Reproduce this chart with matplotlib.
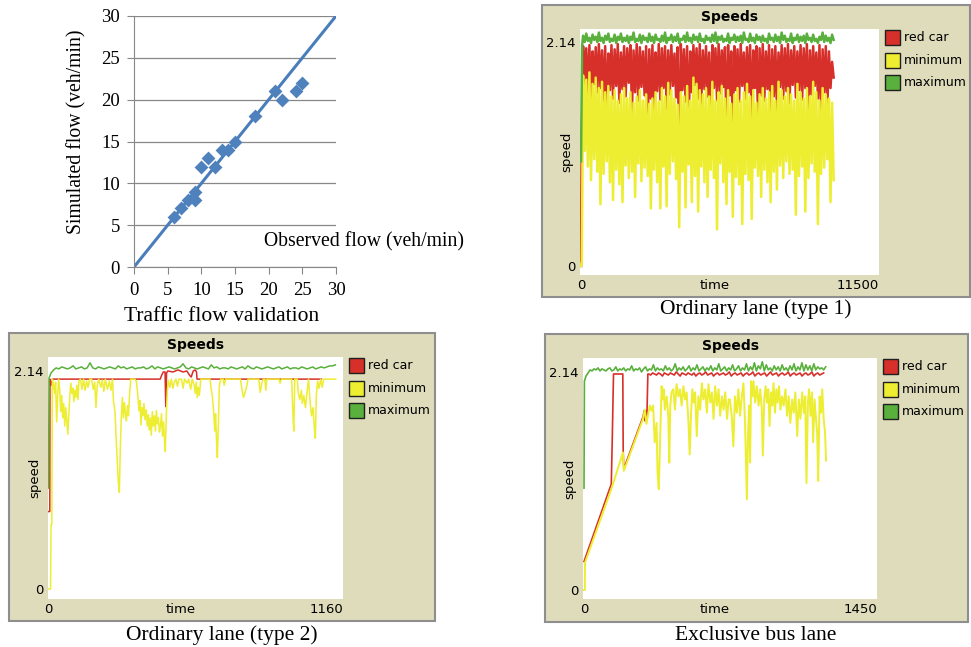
import numpy as np
import matplotlib.pyplot as plt
from matplotlib.patches import Rectangle

W, H = 971, 647

# ---- traffic flow validation (veh/min)
observed = [6, 7, 8, 9, 9, 10, 11, 12, 13, 14, 15, 18, 21, 22, 24, 25]
simulated = [6, 7, 8, 9, 8, 12, 13, 12, 14, 14, 15, 18, 21, 20, 21, 22]
fit_x = [0, 30]
fit_y = [0, 30]
flow_ticks = [0, 5, 10, 15, 20, 25, 30]

# ---- ordinary lane (type 1): start-up points, then evenly sampled ticks
red1_start = [(0, 0.0), (20, 1.0)]
red1 = [2.10, 1.70, 2.08, 1.62, 2.11, 1.52, 2.05, 1.74, 2.09, 1.66,
        2.12, 1.70, 2.06, 1.58, 2.10, 1.42, 2.03, 1.68, 2.11, 1.60,
        2.07, 1.72, 2.12, 1.56, 2.04, 1.69, 2.10, 1.62, 2.08, 1.75,
        2.11, 1.47, 2.06, 1.66, 2.12, 1.58, 2.09, 1.71, 2.05, 1.63,
        2.10, 1.30, 2.07, 1.60, 2.11, 1.38, 2.04, 1.67, 2.12, 1.59,
        2.08, 1.70, 2.10, 1.50, 2.06, 1.64, 2.11, 1.72, 2.03, 1.61,
        2.09, 0.91, 2.12, 1.68, 2.07, 1.57, 2.10, 1.33, 2.05, 1.66,
        2.11, 1.73, 2.08, 1.60, 2.12, 1.55, 2.06, 1.69, 2.10, 1.62,
        2.04, 1.36, 2.11, 1.70, 2.08, 1.58, 2.12, 1.65, 2.06, 1.71,
        2.09, 1.26, 2.11, 1.63, 2.05, 1.26, 2.10, 1.68, 2.07, 1.57,
        2.12, 1.72, 2.04, 1.60, 2.09, 1.66, 2.11, 1.39, 2.06, 1.70,
        2.10, 1.40, 2.08, 1.63, 2.12, 1.58, 2.05, 1.69, 2.11, 1.44,
        2.07, 1.62, 2.10, 1.49, 2.04, 1.71, 2.11, 1.60, 2.08, 1.67,
        2.12, 1.56, 2.06, 1.73, 2.10, 1.61, 2.05, 1.68, 2.11, 1.59,
        2.08, 1.70, 2.12, 1.46, 2.06, 1.64, 2.10, 1.72, 2.04, 1.60,
        2.11, 1.47, 2.07, 1.66, 2.10, 1.50, 2.05, 1.70, 1.95, 1.80]
yellow1_start = [(0, 0.0), (30, 0.05)]
yellow1 = [1.82, 1.10, 1.78, 0.95, 1.85, 0.82, 1.74, 1.02, 1.80, 0.90,
           1.70, 0.59, 1.76, 0.88, 1.66, 1.00, 1.72, 0.80, 1.62, 0.63,
           1.68, 0.92, 1.58, 0.78, 1.64, 0.61, 1.70, 0.96, 1.60, 0.84,
           1.66, 0.90, 1.56, 0.66, 1.62, 0.98, 1.68, 0.81, 1.58, 0.94,
           1.64, 0.86, 1.55, 0.55, 1.60, 0.92, 1.66, 0.80, 1.57, 0.55,
           1.70, 0.95, 1.62, 0.57, 1.75, 0.88, 1.68, 1.00, 1.60, 0.83,
           1.54, 0.37, 1.66, 0.90, 1.62, 0.56, 1.72, 0.97, 1.58, 0.61,
           1.80, 0.86, 1.74, 0.52, 1.68, 0.95, 1.64, 0.80, 1.70, 0.66,
           1.62, 0.92, 1.76, 0.84, 1.58, 0.35, 1.66, 0.98, 1.72, 0.80,
           1.60, 0.59, 1.68, 0.90, 1.55, 0.47, 1.64, 0.85, 1.70, 0.78,
           1.58, 0.40, 1.66, 0.88, 1.74, 0.82, 1.62, 0.45, 1.68, 0.94,
           1.56, 0.86, 1.64, 0.66, 1.70, 0.92, 1.60, 0.80, 1.66, 0.61,
           1.72, 0.90, 1.58, 0.73, 1.76, 0.96, 1.68, 0.84, 1.62, 1.00,
           1.70, 0.88, 1.64, 0.92, 1.58, 0.49, 1.74, 0.86, 1.66, 0.95,
           1.60, 0.52, 1.70, 0.84, 1.62, 0.98, 1.76, 0.90, 1.66, 0.40,
           1.58, 0.88, 1.70, 0.94, 1.64, 1.02, 1.60, 0.61, 1.56, 0.82]
green1_start = [(0, 1.0), (40, 2.10)]
green1 = [2.20, 2.14, 2.22, 2.15, 2.18, 2.13, 2.21, 2.16, 2.19, 2.14,
          2.23, 2.15, 2.18, 2.13, 2.20, 2.16, 2.22, 2.14, 2.17, 2.15,
          2.21, 2.13, 2.19, 2.16, 2.22, 2.14, 2.18, 2.15, 2.20, 2.13,
          2.19, 2.16, 2.23, 2.14, 2.17, 2.15, 2.21, 2.13, 2.20, 2.16,
          2.18, 2.14, 2.22, 2.15, 2.19, 2.13, 2.21, 2.16, 2.17, 2.14,
          2.20, 2.15, 2.23, 2.13, 2.18, 2.16, 2.21, 2.14, 2.19, 2.15,
          2.22, 2.13, 2.17, 2.16, 2.20, 2.14, 2.23, 2.15, 2.18, 2.13,
          2.21, 2.16, 2.19, 2.14, 2.22, 2.15, 2.17, 2.13, 2.20, 2.16,
          2.18, 2.14, 2.21, 2.15, 2.23, 2.13, 2.19, 2.16, 2.20, 2.14,
          2.17, 2.15, 2.22, 2.13, 2.18, 2.16, 2.21, 2.14, 2.19, 2.15,
          2.20, 2.13, 2.23, 2.16, 2.17, 2.14, 2.22, 2.15, 2.18, 2.13,
          2.21, 2.16, 2.19, 2.14, 2.20, 2.15, 2.17, 2.13, 2.22, 2.16,
          2.18, 2.14, 2.21, 2.15, 2.19, 2.13, 2.23, 2.16, 2.20, 2.14,
          2.17, 2.15, 2.22, 2.13, 2.18, 2.16, 2.21, 2.14, 2.19, 2.15,
          2.20, 2.13, 2.22, 2.16, 2.18, 2.14, 2.21, 2.15, 2.17, 2.13,
          2.19, 2.16, 2.23, 2.14, 2.20, 2.15, 2.18, 2.13, 2.21, 2.16]
t1_noise = (80, 9750)

# ---- ordinary lane (type 2)
red2 = [(0, 0.76), (5, 0.76), (6, 2.06), (10, 2.00), (16, 2.06), (440, 2.06),
        (446, 2.10), (452, 2.13), (459, 2.13), (462, 1.79), (465, 2.12),
        (470, 2.14), (490, 2.13), (510, 2.15), (530, 2.13), (545, 2.14),
        (555, 2.10), (562, 2.08), (570, 2.14), (578, 2.15), (583, 2.13),
        (585, 2.06), (1075, 2.06)]
yellow2 = [(0, 0.0), (8, 0.0), (10, 0.63), (13, 0.63), (15, 2.06), (20, 2.0),
           (24, 1.92), (28, 2.03), (32, 1.64), (36, 1.9), (40, 2.06), (44, 1.96),
           (48, 1.74), (52, 1.9), (56, 1.68), (60, 1.82), (64, 1.6), (68, 1.78),
           (72, 1.66), (76, 1.52), (80, 1.72), (84, 1.9), (88, 2.02), (92, 1.92),
           (96, 1.97), (100, 1.84), (104, 1.95), (108, 1.88), (112, 2.0),
           (116, 1.86), (120, 2.04), (126, 2.06), (132, 1.96), (138, 2.06),
           (144, 1.95), (150, 2.04), (156, 1.98), (162, 2.06), (170, 2.06),
           (176, 1.96), (182, 2.03), (187, 1.78), (192, 2.0), (198, 2.06),
           (206, 1.98), (212, 2.05), (218, 1.94), (224, 2.06), (232, 1.96),
           (240, 2.04), (246, 1.95), (252, 2.06), (256, 1.84), (262, 1.74),
           (266, 1.5), (270, 1.3), (275, 1.05), (279, 0.95), (283, 1.4),
           (287, 1.7), (291, 1.88), (295, 1.68), (299, 1.83), (303, 1.72),
           (307, 1.65), (311, 1.8), (315, 1.7), (319, 1.9), (324, 2.06),
           (340, 2.06), (346, 2.04), (352, 1.9), (356, 1.75), (360, 1.85),
           (364, 1.61), (368, 1.78), (372, 1.7), (376, 1.82), (380, 1.66),
           (385, 1.76), (389, 1.6), (393, 1.71), (397, 1.56), (401, 1.68),
           (405, 1.51), (409, 1.74), (413, 1.6), (417, 1.7), (421, 1.55),
           (425, 1.75), (429, 1.62), (433, 1.68), (437, 1.54), (441, 1.6),
           (445, 1.72), (449, 1.5), (453, 1.64), (457, 1.45), (460, 1.35),
           (464, 1.7), (468, 1.95), (472, 2.05), (478, 1.98), (484, 2.06),
           (490, 1.97), (496, 2.03), (502, 2.06), (508, 1.99), (514, 2.06),
           (524, 2.06), (530, 1.97), (536, 2.06), (546, 2.02), (552, 2.06),
           (560, 1.96), (566, 2.06), (574, 2.0), (578, 1.92), (582, 2.03),
           (586, 1.88), (590, 1.98), (594, 1.9), (600, 2.06), (636, 2.06),
           (640, 1.98), (645, 1.9), (650, 1.76), (655, 1.55), (658, 1.72),
           (662, 1.45), (665, 1.29), (669, 1.6), (673, 2.0), (678, 2.06),
           (688, 2.06), (692, 2.0), (698, 2.06), (756, 2.06), (762, 1.96),
           (768, 1.88), (774, 1.93), (780, 1.98), (786, 2.06), (828, 2.06),
           (834, 1.93), (840, 2.02), (846, 2.06), (852, 2.06), (856, 1.95),
           (860, 2.06), (908, 2.06), (912, 2.02), (918, 2.06), (958, 2.06),
           (962, 1.75), (966, 1.55), (970, 2.06), (980, 2.06), (984, 1.92),
           (990, 1.86), (996, 1.95), (1000, 1.82), (1006, 1.9), (1012, 1.78),
           (1018, 1.92), (1024, 2.06), (1030, 1.85), (1036, 1.7), (1042, 1.78),
           (1048, 1.55), (1051, 1.48), (1055, 1.9), (1060, 2.04), (1066, 1.97),
           (1072, 2.06), (1078, 1.98), (1084, 2.06), (1131, 2.06)]
green2_start = [(0, 0.99), (2, 2.07), (10, 2.12), (20, 2.15)]
green2 = [2.17, 2.16, 2.18, 2.17, 2.16, 2.17, 2.19, 2.16, 2.17, 2.18,
          2.16, 2.17, 2.22, 2.17, 2.16, 2.18, 2.17, 2.16, 2.17, 2.18,
          2.17, 2.16, 2.19, 2.17, 2.18, 2.16, 2.17, 2.18, 2.16, 2.17,
          2.17, 2.18, 2.16, 2.17, 2.19, 2.16, 2.18, 2.17, 2.16, 2.17,
          2.18, 2.17, 2.16, 2.17, 2.18, 2.21, 2.17, 2.16, 2.18, 2.17,
          2.16, 2.17, 2.18, 2.17, 2.16, 2.20, 2.17, 2.18, 2.16, 2.17,
          2.17, 2.16, 2.18, 2.17, 2.16, 2.17, 2.18, 2.16, 2.19, 2.17,
          2.16, 2.18, 2.17, 2.16, 2.17, 2.18, 2.17, 2.16, 2.17, 2.18,
          2.16, 2.17, 2.18, 2.16, 2.17, 2.17, 2.16, 2.18, 2.17, 2.16,
          2.17, 2.18, 2.16, 2.17, 2.18, 2.17, 2.18, 2.19, 2.19, 2.20]
t2_noise = (30, 1130)

# ---- exclusive bus lane
red4_start = [(0, 0.28), (135, 1.04), (140, 1.5), (146, 2.12), (192, 2.12),
              (194, 1.35), (197, 1.19), (292, 1.70), (298, 1.76), (302, 1.66),
              (306, 1.76), (311, 1.68), (316, 2.12)]
red4 = [2.12, 2.11, 2.13, 2.12, 2.11, 2.13, 2.12, 2.10, 2.13, 2.12,
        2.11, 2.13, 2.12, 2.11, 2.14, 2.12, 2.10, 2.13, 2.12, 2.11,
        2.13, 2.12, 2.11, 2.13, 2.10, 2.12, 2.13, 2.11, 2.12, 2.14,
        2.11, 2.12, 2.13, 2.10, 2.12, 2.13, 2.11, 2.12, 2.13, 2.11,
        2.12, 2.14, 2.10, 2.12, 2.13, 2.11, 2.12, 2.13, 2.10, 2.12,
        2.13, 2.11, 2.12, 2.14, 2.10, 2.12, 2.13, 2.11, 2.12, 2.13,
        2.10, 2.12, 2.14, 2.11, 2.12, 2.13, 2.10, 2.12, 2.13, 2.11,
        2.12, 2.14, 2.10, 2.12, 2.13, 2.11, 2.12, 2.13, 2.10, 2.12,
        2.13, 2.11, 2.12, 2.14, 2.10, 2.12, 2.13, 2.11, 2.12, 2.13]
t4_red_noise = (320, 1186)
yellow4 = [(0, 0.0), (4, 0.0), (5, 0.27), (135, 0.99), (193, 1.35), (197, 1.17),
           (292, 1.68), (301, 1.77), (309, 1.63), (317, 1.72), (326, 1.81),
           (334, 1.76), (342, 1.81), (350, 1.45), (359, 1.64), (364, 1.15),
           (370, 0.99), (377, 1.48), (384, 2.00), (389, 1.87), (395, 1.97),
           (400, 1.77), (409, 1.90), (417, 1.71), (422, 1.25), (427, 1.81),
           (433, 1.94), (442, 1.97), (450, 1.77), (458, 2.02), (467, 1.90),
           (475, 1.97), (483, 1.81), (492, 2.00), (500, 1.87), (508, 1.94),
           (517, 1.64), (523, 1.33), (530, 1.74), (536, 1.97), (543, 1.84),
           (550, 1.94), (558, 1.51), (566, 1.90), (575, 1.77), (583, 2.03),
           (591, 1.87), (600, 1.97), (608, 1.74), (616, 2.02), (625, 1.84),
           (633, 1.94), (641, 1.68), (649, 2.00), (658, 1.81), (666, 1.97),
           (674, 1.71), (683, 1.90), (691, 1.77), (699, 1.94), (708, 1.68),
           (716, 1.87), (722, 1.87), (731, 1.71), (739, 1.41), (747, 1.90),
           (756, 1.74), (764, 1.97), (772, 1.71), (781, 1.90), (789, 2.03),
           (797, 1.64), (802, 1.22), (806, 0.89), (811, 1.48), (817, 1.81),
           (822, 1.25), (827, 2.05), (834, 1.90), (839, 2.05), (847, 1.84),
           (855, 2.00), (864, 1.81), (872, 1.97), (880, 1.77), (885, 1.32),
           (892, 1.87), (899, 2.00), (905, 1.84), (912, 1.97), (918, 1.61),
           (925, 1.94), (932, 1.81), (938, 2.03), (945, 1.74), (952, 1.97),
           (958, 1.84), (965, 2.00), (972, 1.77), (980, 1.90), (988, 1.81),
           (997, 1.97), (1005, 1.71), (1013, 1.90), (1021, 1.64), (1030, 1.87),
           (1038, 1.74), (1046, 1.94), (1055, 1.51), (1063, 1.87), (1071, 1.68),
           (1080, 1.94), (1088, 1.74), (1095, 1.90), (1101, 1.05), (1108, 1.84),
           (1114, 1.97), (1121, 1.71), (1128, 1.94), (1134, 1.45), (1141, 1.87),
           (1148, 1.68), (1154, 1.54), (1159, 1.07), (1166, 1.90), (1173, 1.74),
           (1179, 1.97), (1186, 1.68), (1193, 1.54), (1198, 1.27)]
green4_start = [(0, 1.0), (2, 2.05), (10, 2.10), (20, 2.13)]
green4 = [2.16, 2.15, 2.17, 2.16, 2.18, 2.15, 2.17, 2.16, 2.15, 2.17,
          2.18, 2.15, 2.16, 2.19, 2.15, 2.17, 2.16, 2.18, 2.15, 2.17,
          2.16, 2.20, 2.15, 2.17, 2.16, 2.18, 2.14, 2.17, 2.19, 2.15,
          2.17, 2.16, 2.21, 2.15, 2.18, 2.16, 2.17, 2.15, 2.20, 2.16,
          2.18, 2.15, 2.17, 2.22, 2.15, 2.18, 2.16, 2.19, 2.15, 2.17,
          2.20, 2.15, 2.18, 2.16, 2.21, 2.15, 2.17, 2.19, 2.15, 2.18,
          2.16, 2.20, 2.15, 2.18, 2.16, 2.22, 2.15, 2.17, 2.19, 2.15,
          2.18, 2.16, 2.21, 2.15, 2.17, 2.20, 2.15, 2.18, 2.16, 2.22,
          2.15, 2.19, 2.16, 2.23, 2.15, 2.20, 2.17, 2.24, 2.15, 2.21,
          2.16, 2.18, 2.15, 2.20, 2.16, 2.19, 2.15, 2.21, 2.16, 2.18,
          2.15, 2.20, 2.16, 2.22, 2.15, 2.19, 2.16, 2.23, 2.15, 2.21,
          2.16, 2.20, 2.15, 2.22, 2.16, 2.19, 2.17, 2.18, 2.16, 2.19]
t4_noise = (30, 1196)

pens = ['red car', 'minimum', 'maximum']
RED, YELLOW, GREEN = '#D7302A', '#EDED31', '#59B03C'
PANEL = '#DEDCBB'

plt.rcParams['font.family'] = 'Liberation Serif'


def with_noise(start, vals, span):
    t = [p[0] for p in start] + list(np.linspace(span[0], span[1], len(vals)))
    v = [p[1] for p in start] + list(vals)
    return t, v


def pairs(pts):
    return [p[0] for p in pts], [p[1] for p in pts]


fig = plt.figure(figsize=(W / 100, H / 100), dpi=100)


def box(x0, y0, x1, y1):
    return [x0 / W, 1 - y1 / H, (x1 - x0) / W, (y1 - y0) / H]


def ftext(x, y, s, **kw):
    fig.text(x / W, 1 - y / H, s, **kw)


def speeds_plot(frame, area, xmax, xlim, ylim, lines, widths):
    x0, y0, x1, y1 = frame
    fig.patches.append(Rectangle((x0 / W, 1 - y1 / H), (x1 - x0) / W, (y1 - y0) / H,
                                 transform=fig.transFigure, fc=PANEL, ec='#8E8E8E',
                                 lw=1.5, zorder=-1))
    ax = fig.add_axes(box(*area))
    for (t, v), c, lw in zip(lines, [RED, YELLOW, GREEN], widths):
        ax.plot(t, v, color=c, lw=lw)
    ax.set_xlim(*xlim)
    ax.set_ylim(*ylim)
    ax.set_xticks([])
    ax.set_yticks([0, 2.14], ['0', '2.14'])
    ax.tick_params(axis='y', length=0, pad=3, labelsize=9.5, labelfontfamily='DejaVu Sans')
    for s in ax.spines.values():
        s.set_visible(False)
    sans = dict(family='DejaVu Sans', fontsize=9.5)
    ax.annotate('0', (0, 0), xycoords=('data', 'axes fraction'), xytext=(0, -4),
                textcoords='offset pixels', ha='center', va='top', **sans)
    ax.annotate(str(xmax), (xmax, 0), xycoords=('data', 'axes fraction'), xytext=(0, -4),
                textcoords='offset pixels', ha='right', va='top', **sans)
    ax.annotate('time', (0.5, 0), xycoords='axes fraction', xytext=(-15, -4),
                textcoords='offset pixels', ha='center', va='top', **sans)
    ax.annotate('speed', (0, 0.5), xycoords='axes fraction', xytext=(-13, 0),
                textcoords='offset pixels', ha='center', va='center', rotation=90, **sans)
    ax.annotate('Speeds', (0.5, 1), xycoords='axes fraction', xytext=(0, 12),
                textcoords='offset pixels', ha='center', va='center',
                family='DejaVu Sans', fontsize=10, weight='bold')
    # legend squares at the right of the plot area
    ax0, ay0, ax1, ay1 = area
    for k, (name, c) in enumerate(zip(pens, [RED, YELLOW, GREEN])):
        sx, sy = ax1 + 6, ay0 + 1 + 22.7 * k
        fig.patches.append(Rectangle((sx / W, 1 - (sy + 15) / H), 15 / W, 15 / H,
                                     transform=fig.transFigure, fc=c, ec='#202020',
                                     lw=1.0, zorder=2))
        ftext(sx + 19, sy + 7.5, name, ha='left', va='center',
              family='DejaVu Sans', fontsize=9)
    return ax


# ---- scatter: traffic flow validation
ax = fig.add_axes(box(134, 16, 336, 267))
ax.plot(fit_x, fit_y, color='#4A7EBB', lw=2.2, zorder=2)
ax.scatter(observed, simulated, marker='D', s=50, color='#4F81BD', lw=0, zorder=3)
ax.set_xlim(0, 30)
ax.set_ylim(0, 30)
ax.set_xticks(flow_ticks)
ax.set_yticks(flow_ticks)
ax.yaxis.grid(True, color='#878787', lw=0.9)
ax.set_axisbelow(True)
for s in ['top', 'right']:
    ax.spines[s].set_visible(False)
for s in ['left', 'bottom']:
    ax.spines[s].set_color('#878787')
ax.tick_params(direction='out', length=5, color='#878787', labelsize=13.5)
ax.tick_params(axis='x', pad=6)
ax.tick_params(axis='y', pad=5)
ftext(264, 242, 'Observed flow (veh/min)', fontsize=14.2, ha='left', va='center',
      bbox=dict(fc='white', ec='none', pad=4))
ftext(77, 132, 'Simulated flow (veh/min)', fontsize=14.2, rotation=90,
      ha='center', va='center')
ftext(222, 317, 'Traffic flow validation', fontsize=15.5, ha='center', va='center')

# ---- NetLogo speed plots
speeds_plot((542, 5, 970, 297), (580, 29, 879, 275), 11500, (-40, 11500),
            (-0.086, 2.264),
            [with_noise(red1_start, red1, t1_noise),
             with_noise(yellow1_start, yellow1, t1_noise),
             with_noise(green1_start, green1, t1_noise)],
            (1.8, 1.8, 1.8))
ftext(756, 309, 'Ordinary lane (type 1)', fontsize=15.5, ha='center', va='center')

speeds_plot((9, 333, 435, 621), (48, 357, 343, 599), 1160, (-2, 1160),
            (-0.098, 2.277),
            [pairs(red2), pairs(yellow2), with_noise(green2_start, green2, t2_noise)],
            (1.1, 1.1, 1.1))
ftext(222, 635, 'Ordinary lane (type 2)', fontsize=15.5, ha='center', va='center')

speeds_plot((545, 334, 968, 622), (583, 358, 877, 599), 1450, (-5, 1450),
            (-0.088, 2.277),
            [with_noise(red4_start, red4, t4_red_noise), pairs(yellow4),
             with_noise(green4_start, green4, t4_noise)],
            (1.2, 1.4, 1.2))
ftext(756, 636, 'Exclusive bus lane', fontsize=15.5, ha='center', va='center')

fig.savefig('out.png', dpi=100)
